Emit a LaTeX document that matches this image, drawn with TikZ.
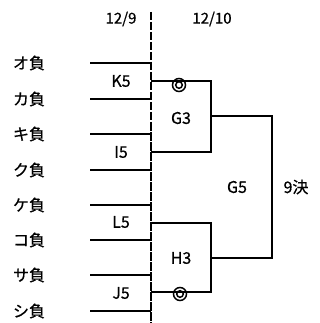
\documentclass[tikz,border=0pt]{standalone}
\usepackage{fontspec}
\setmainfont{Noto Sans CJK JP}[FakeBold=0.6]
\begin{document}
\begin{tikzpicture}[x=1pt,y=-1pt,
  br/.style={line width=2pt},
  lbl/.style={font=\fontsize{16}{18}\selectfont, inner sep=0pt},
  dt/.style={font=\fontsize{15}{17}\selectfont, inner sep=0pt},
  dashline/.style={line width=2pt, dash pattern=on 8.5pt off 1.5pt},
  mark2/.style={line width=1.5pt}]
\useasboundingbox (0,0) rectangle (320,323);
% dates
\node[dt] (d1) at (121,19) {12/9};
\node[dt] (d2) at (212,19) {12/10};
% dashed day separator
\coordinate (vt) at (151,12);
\coordinate (vb) at (151,323);
\draw[dashline] (vt) -- (vb);
% left entries
\foreach \n/\t/\y in {a/オ負/63, b/カ負/99, c/キ負/134, d/ク負/170, e/ケ負/205, f/コ負/240, g/サ負/275, h/シ負/311}{
  \node[lbl] (\n) at (29,\y) {\t};
  \coordinate (\n s) at (90,\y);
  \coordinate (\n e) at (151,\y);
  \draw[br] (\n s) -- (\n e);
}
% first-day game labels
\node[lbl] (K5) at (121,81) {K5};
\node[lbl] (I5) at (121,152) {I5};
\node[lbl] (L5) at (121,222) {L5};
\node[lbl] (J5) at (121,293) {J5};
% G3 bracket
\coordinate (g3a) at (151,81);
\coordinate (g3b) at (151,152);
\coordinate (g3o) at (211,116);
\coordinate (g5a) at (272,116);
\draw[br] (g3a) -| (211,152) -- (g3b);
\node[lbl] (G3) at (181,118) {G3};
% H3 bracket
\coordinate (h3a) at (151,223);
\coordinate (h3b) at (151,292);
\coordinate (h3o) at (211,258);
\coordinate (g5b) at (272,258);
\draw[br] (h3a) -| (211,292) -- (h3b);
\node[lbl] (H3) at (181,258) {H3};
% G5 bracket
\draw[br] (g3o) -- (g5a) -- (g5b) -- (h3o);
\node[lbl] (G5) at (237,187) {G5};
\node[lbl] (r9) at (296,187) {9決};
% double circles
\node[draw, circle, mark2, minimum size=13pt, inner sep=0pt] (m1) at (179,85) {};
\draw[mark2] (m1.center) circle (3.3);
\node[draw, circle, mark2, minimum size=13pt, inner sep=0pt] (m2) at (180,294) {};
\draw[mark2] (m2.center) circle (3.3);
\end{tikzpicture}
\end{document}
